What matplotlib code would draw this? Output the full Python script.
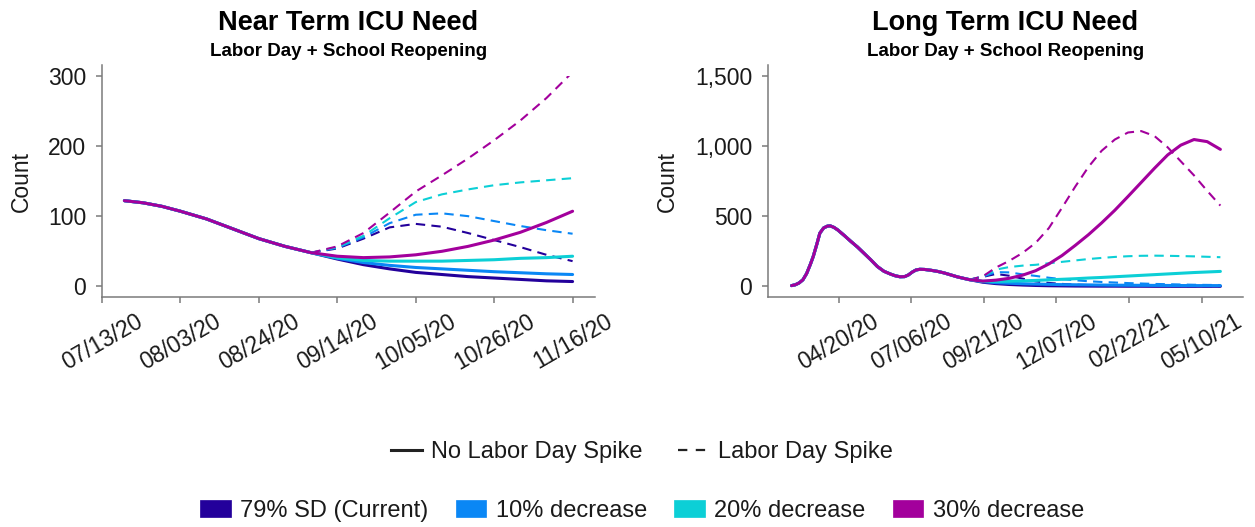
import numpy as np
import pandas as pd
import matplotlib
matplotlib.use("Agg")
import matplotlib.pyplot as plt
import matplotlib.dates as mdates
from matplotlib.lines import Line2D
from matplotlib.patches import Patch, Rectangle
from matplotlib.ticker import FuncFormatter, MultipleLocator

plt.rcParams['font.family'] = ['Liberation Sans', 'DejaVu Sans']

# ---------------- scenarios ----------------
scenarios = ["79% SD (Current)", "10% decrease", "20% decrease", "30% decrease"]
scenario_colors = ["#23009B", "#0A87F5", "#0CCFD6", "#A3009C"]

# ---------------- near term (ICU census) ----------------
near_hist_dates = pd.to_datetime([
    "2020-07-19", "2020-07-24", "2020-07-29", "2020-08-03", "2020-08-10",
    "2020-08-17", "2020-08-24", "2020-08-31", "2020-09-07"])
near_hist = [122, 119, 114, 107, 96, 82, 68, 57, 48]

near_proj_dates = pd.date_range("2020-09-07", "2020-11-16", freq="7D")
near_no_spike = {
    "79% SD (Current)": [48, 39, 31, 25, 20, 17, 14, 12, 10, 8, 7],
    "10% decrease":     [48, 40, 34, 30, 27, 25, 23, 21, 19.5, 18, 17],
    "20% decrease":     [48, 41, 37, 36, 36, 36, 37, 38, 40, 41, 43],
    "30% decrease":     [48, 43, 41, 42, 45, 50, 57, 66, 77, 91, 107],
}
near_spike = {
    "79% SD (Current)": [48, 54, 68, 84, 89, 85, 76, 66, 56, 45, 36],
    "10% decrease":     [48, 55, 70, 90, 102, 104, 100, 93, 86, 80, 75],
    "20% decrease":     [48, 56, 72, 97, 120, 131, 138, 144, 148, 151, 154],
    "30% decrease":     [48, 57, 76, 105, 135, 158, 182, 208, 236, 268, 305],
}
near_ticks = ["2020-07-13", "2020-08-03", "2020-08-24", "2020-09-14",
              "2020-10-05", "2020-10-26", "2020-11-16"]
near_xlim = ("2020-07-13", "2020-11-22")
near_ylim = (0, 300)

# ---------------- long term (ICU census) ----------------
long_hist_dates = pd.to_datetime([
    "2020-03-01", "2020-03-05", "2020-03-09", "2020-03-13", "2020-03-17",
    "2020-03-21", "2020-03-24", "2020-03-28", "2020-03-31", "2020-04-04",
    "2020-04-08", "2020-04-11", "2020-04-15", "2020-04-19", "2020-04-26",
    "2020-05-03", "2020-05-10", "2020-05-17", "2020-05-24", "2020-05-31",
    "2020-06-07", "2020-06-14", "2020-06-19", "2020-06-24", "2020-06-29",
    "2020-07-03", "2020-07-07", "2020-07-11", "2020-07-15", "2020-07-20",
    "2020-07-27", "2020-08-03", "2020-08-10", "2020-08-17", "2020-08-24",
    "2020-08-31", "2020-09-06"])
long_hist = [6, 12, 25, 47, 92, 158, 213, 305, 379, 416,
             429, 431, 420, 402, 362,
             320, 280, 235, 190, 142,
             108, 88, 76, 69, 70,
             82, 102, 117, 122, 121,
             115, 107, 96, 82, 68,
             57, 48]

long_proj_dates = pd.date_range("2020-09-06", "2021-05-30", freq="14D")
long_no_spike = {
    "79% SD (Current)": [48, 30, 20, 14, 10, 7, 5, 4, 3, 2.5, 2, 2, 1.5, 1.5, 1, 1, 1, 1, 1, 1],
    "10% decrease":     [48, 34, 27, 23, 19.5, 17, 15, 13, 12, 11, 10, 9, 8.5, 8, 7.5, 7, 6.5, 6, 6, 6],
    "20% decrease":     [48, 37, 36, 37, 40, 43, 47, 51, 55, 60, 64, 69, 74, 79, 84, 89, 94, 99, 103, 107],
    "30% decrease":     [48, 38, 45, 58, 80, 112, 160, 220, 292, 368, 452, 542, 640, 740, 840, 935,
                         1005, 1045, 1030, 975],
}
long_spike = {
    "79% SD (Current)": [48, 68, 89, 76, 56, 36, 25, 18, 13, 10, 8, 6, 5, 4, 3.5, 3, 2.5, 2, 2, 2],
    "10% decrease":     [48, 70, 102, 100, 86, 75, 62, 52, 44, 37, 32, 28, 24, 21, 18, 16, 14, 12, 11, 10],
    "20% decrease":     [48, 72, 120, 138, 148, 154, 165, 175, 185, 195, 203, 210, 215, 218, 219, 218,
                         216, 214, 211, 208],
    "30% decrease":     [48, 72, 135, 182, 238, 310, 415, 560, 710, 850, 965, 1045, 1095, 1105, 1070,
                         990, 890, 790, 680, 575],
}
long_ticks = ["2020-04-20", "2020-07-06", "2020-09-21", "2020-12-07",
              "2021-02-22", "2021-05-10"]
long_xlim = ("2020-02-05", "2021-06-23")
long_ylim = (0, 1500)

title_main = ["Near Term ICU Need", "Long Term ICU Need"]
title_sub = "Labor Day + School Reopening"
y_label = "Count"
line_legend_labels = ["No Labor Day Spike", "Labor Day Spike"]

# ---------------- styling ----------------
W, H = 1255, 527
AXIS_GREY = "#7a7a7a"
TEXT = "#1a1a1a"
SOLID_LW = 2.2
DASH_LW = 1.5
DASH = (0, (4.5, 3))

fig = plt.figure(figsize=(W / 100, H / 100), dpi=100)
ax1 = fig.add_axes([102 / W, 1 - 297 / H, 493 / W, 232 / H])
ax2 = fig.add_axes([768 / W, 1 - 297 / H, 475 / W, 232 / H])


def draw_panel(ax, hist_dates, hist, proj_dates, no_spike, spike):
    lines = []
    for name, col in zip(scenarios, scenario_colors):
        ln, = ax.plot(proj_dates, spike[name], color=col, lw=DASH_LW,
                      linestyle=DASH, zorder=2)
        lines.append(ln)
    for name, col in zip(scenarios, scenario_colors):
        x = list(hist_dates) + list(proj_dates[1:])
        y = list(hist) + list(no_spike[name][1:])
        ln, = ax.plot(x, y, color=col, lw=SOLID_LW, solid_capstyle="round",
                      solid_joinstyle="round", zorder=3)
        lines.append(ln)
    return lines


def style_axis(ax, ticks, xlim, ylim, ystep, label_x):
    pad = (ylim[1] - ylim[0]) * 0.05
    ax.set_ylim(ylim[0] - pad, ylim[1] + pad)
    ax.set_xlim(pd.Timestamp(xlim[0]), pd.Timestamp(xlim[1]))
    ax.set_xticks([pd.Timestamp(t) for t in ticks])
    ax.xaxis.set_major_formatter(mdates.DateFormatter("%m/%d/%y"))
    ax.yaxis.set_major_locator(MultipleLocator(ystep))
    ax.yaxis.set_major_formatter(FuncFormatter(lambda v, p: f"{v:,.0f}"))
    for s in ["top", "right"]:
        ax.spines[s].set_visible(False)
    for s in ["left", "bottom"]:
        ax.spines[s].set_color(AXIS_GREY)
        ax.spines[s].set_linewidth(1.1)
    ax.tick_params(axis="both", colors=AXIS_GREY, width=1.1, length=4,
                   labelcolor=TEXT, labelsize=16.5)
    ax.tick_params(axis="y", pad=7.5)
    ax.tick_params(axis="x", pad=5)
    for lab in ax.get_xticklabels():
        lab.set_rotation(30)
        lab.set_ha("center")
    ax.set_ylabel(y_label, fontsize=16.5, color=TEXT)
    ax.yaxis.set_label_coords(label_x, 0.5)
    ax.patch.set_alpha(0)


near_lines = draw_panel(ax1, near_hist_dates, near_hist, near_proj_dates,
                        near_no_spike, near_spike)
long_lines = draw_panel(ax2, long_hist_dates, long_hist, long_proj_dates,
                        long_no_spike, long_spike)

style_axis(ax1, near_ticks, near_xlim, near_ylim, 100, (33 - 102) / 493)
style_axis(ax2, long_ticks, long_xlim, long_ylim, 500, (679 - 768) / 475)

# values outside the 0-300 scale limit are dropped on the near-term panel
x0, x1 = ax1.get_xlim()
y0 = ax1.get_ylim()[0]
limit_box = Rectangle((x0, y0), x1 - x0, near_ylim[1] - y0, transform=ax1.transData)
for ln in near_lines:
    ln.set_clip_path(limit_box)

# titles
for ax, t in zip([ax1, ax2], title_main):
    bb = ax.get_position()
    xc = (bb.x0 + bb.x1) / 2
    fig.text(xc, 1 - 29.5 / H, t, ha="center", va="baseline",
             fontsize=19.5, fontweight="bold", color="black")
    fig.text(xc, 1 - 56.5 / H, title_sub, ha="center", va="baseline",
             fontsize=13.5, fontweight="bold", color="black")

# legends
line_handles = [Line2D([], [], color="#222222", lw=2.2),
                Line2D([], [], color="#222222", lw=1.6, linestyle=(0, (4.2, 3.8)))]
leg1 = fig.legend(line_handles, line_legend_labels, loc="center",
                  bbox_to_anchor=(642 / W, 1 - 452 / H), ncol=2, frameon=False,
                  fontsize=17, handlelength=1.3, handletextpad=0.4,
                  columnspacing=1.5, borderpad=0, borderaxespad=0)
for t in leg1.get_texts():
    t.set_color(TEXT)

patch_handles = [Patch(facecolor=c, edgecolor=c, lw=0.5) for c in scenario_colors]
leg2 = fig.legend(patch_handles, scenarios, loc="center",
                  bbox_to_anchor=(642 / W, 1 - 511 / H), ncol=4, frameon=False,
                  fontsize=17, handlelength=1.3, handleheight=0.75,
                  handletextpad=0.4, columnspacing=1.15, borderpad=0,
                  borderaxespad=0)
for t in leg2.get_texts():
    t.set_color(TEXT)

fig.savefig("out.png", dpi=100, facecolor="white")
